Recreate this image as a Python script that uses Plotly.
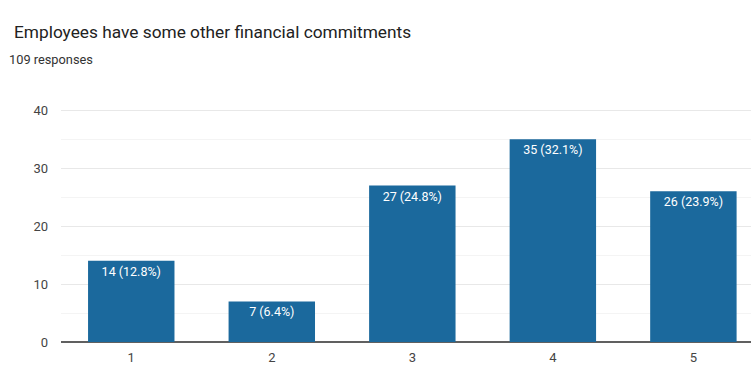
import plotly.graph_objects as go

# Survey results: rating scale 1-5
categories = ["1", "2", "3", "4", "5"]
counts = [14, 7, 27, 35, 26]
total_responses = 109

title_text = "Employees have some other financial commitments"
subtitle_text = f"{total_responses} responses"

labels = [f"{c} ({c / total_responses * 100:.1f}%)" for c in counts]

fig = go.Figure(
    go.Bar(
        x=[int(c) for c in categories],
        y=counts,
        text=labels,
        textposition="inside",
        insidetextanchor="end",
        textangle=0,
        constraintext="none",
        textfont=dict(family="Roboto", size=12.5, color="white"),
        marker=dict(color="#1b699d", line=dict(width=0)),
        width=0.615,
        hoverinfo="skip",
    )
)

fig.update_layout(
    width=751,
    height=374,
    margin=dict(l=61, r=0, t=109, b=32),
    paper_bgcolor="white",
    plot_bgcolor="white",
    showlegend=False,
    font=dict(family="Roboto", color="#444444"),
    annotations=[
        dict(
            text=title_text, xref="paper", yref="paper", x=-61 / 690, y=1 + 77 / 233,
            xanchor="left", yanchor="middle", showarrow=False, xshift=12,
            font=dict(family="Roboto", size=17.3, color="#222222"),
        ),
        dict(
            text=subtitle_text, xref="paper", yref="paper", x=-61 / 690, y=1 + 50 / 233,
            xanchor="left", yanchor="middle", showarrow=False, xshift=7,
            font=dict(family="Roboto", size=12.8, color="#333333"),
        ),
    ],
)

fig.update_xaxes(
    range=[0.5, 5.41],
    tickmode="array",
    tickvals=[int(c) for c in categories],
    ticktext=categories,
    showgrid=False,
    zeroline=False,
    showline=False,
    ticks="",
    ticklabelstandoff=6,
    tickfont=dict(family="Roboto", size=13, color="#444444"),
    fixedrange=True,
)

fig.update_yaxes(
    range=[0, 40.2],
    tickvals=[0, 10, 20, 30, 40],
    showgrid=True,
    gridcolor="#e8e8e8",
    gridwidth=1,
    minor=dict(dtick=5, showgrid=True, gridcolor="#f4f4f4", gridwidth=1),
    zeroline=True,
    zerolinecolor="#606060",
    zerolinewidth=1.5,
    showline=False,
    ticks="",
    ticklabelstandoff=12,
    tickfont=dict(family="Roboto", size=13, color="#444444"),
    fixedrange=True,
)

fig.write_html("out.html")
